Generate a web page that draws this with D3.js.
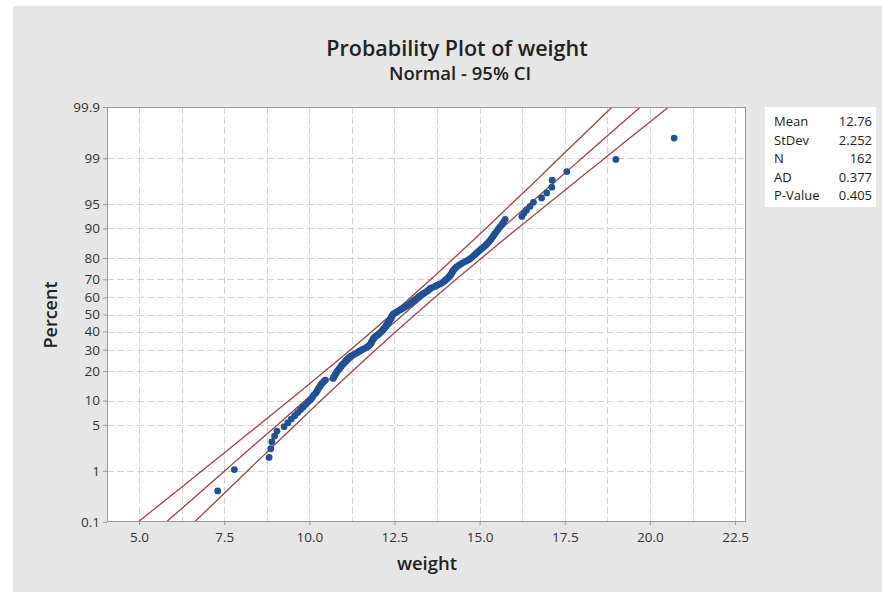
<!DOCTYPE html>
<html>
<head>
<meta charset="utf-8">
<script src="https://cdn.jsdelivr.net/npm/d3@7"></script>
<style>
  body { margin: 0; background: #fff; }
  svg text { font-family: "Open Sans", "Noto Sans", sans-serif; fill: #222; }
</style>
</head>
<body>
<script>
// sorted weights (n = 162)
var weights = [
  7.31, 7.80, 8.82, 8.87, 8.90, 8.98, 9.05, 9.26, 9.37, 9.47,
  9.57, 9.66, 9.74, 9.82, 9.90, 9.97, 10.04, 10.09, 10.13, 10.19,
  10.23, 10.26, 10.30, 10.33, 10.37, 10.42, 10.47, 10.70, 10.72, 10.75,
  10.78, 10.80, 10.83, 10.87, 10.90, 10.93, 10.96, 11.00, 11.04, 11.07,
  11.10, 11.14, 11.18, 11.23, 11.30, 11.37, 11.43, 11.48, 11.55, 11.62,
  11.68, 11.73, 11.77, 11.80, 11.82, 11.83, 11.85, 11.87, 11.89, 11.92,
  11.96, 12.00, 12.04, 12.08, 12.11, 12.14, 12.17, 12.19, 12.22, 12.24,
  12.26, 12.28, 12.30, 12.32, 12.34, 12.36, 12.38, 12.40, 12.41, 12.43,
  12.45, 12.47, 12.52, 12.57, 12.62, 12.67, 12.72, 12.77, 12.82, 12.87,
  12.92, 12.96, 13.00, 13.04, 13.08, 13.12, 13.16, 13.20, 13.24, 13.28,
  13.33, 13.38, 13.43, 13.48, 13.52, 13.55, 13.62, 13.70, 13.77, 13.84,
  13.90, 13.95, 13.99, 14.03, 14.07, 14.10, 14.13, 14.16, 14.18, 14.20,
  14.22, 14.25, 14.29, 14.33, 14.39, 14.45, 14.52, 14.60, 14.68, 14.74,
  14.79, 14.84, 14.89, 14.94, 14.99, 15.05, 15.11, 15.17, 15.22, 15.27,
  15.32, 15.36, 15.40, 15.44, 15.49, 15.54, 15.59, 15.65, 15.70, 15.75,
  16.24, 16.30, 16.38, 16.48, 16.58, 16.82, 16.97, 17.12, 17.13, 17.56,
  19.00, 20.71
];

// fitted line and 95% CI bounds (weight at each percent)
var linePct  = [0.1, 0.5, 1, 2, 5, 10, 20, 30, 50, 70, 80, 90, 95, 98, 99, 99.5, 99.9];
var ciLow    = [4.97, 6.24, 6.85, 7.52, 8.52, 9.41, 10.46, 11.21, 12.41, 13.57, 14.25, 15.18, 15.93, 16.78, 17.33, 17.84, 18.89];
var fitLine  = [5.80, 6.96, 7.52, 8.13, 9.06, 9.87, 10.87, 11.58, 12.76, 13.94, 14.66, 15.65, 16.46, 17.39, 18.00, 18.56, 19.72];
var ciHigh   = [6.63, 7.68, 8.19, 8.75, 9.59, 10.34, 11.27, 11.95, 13.11, 14.31, 15.06, 16.11, 17.00, 18.00, 18.67, 19.28, 20.55];

var yTicks = [0.1, 1, 5, 10, 20, 30, 40, 50, 60, 70, 80, 90, 95, 99, 99.9];
var xTicks = [5, 7.5, 10, 12.5, 15, 17.5, 20, 22.5];

var statLabels = ["Mean", "StDev", "N", "AD", "P-Value"];
var statValues = ["12.76", "2.252", "162", "0.377", "0.405"];

// inverse standard normal (Acklam)
function qnorm(p) {
  var a = [-39.69683028665376, 220.9460984245205, -275.9285104469687, 138.3577518672690, -30.66479806614716, 2.506628277459239];
  var b = [-54.47609879822406, 161.5858368580409, -155.6989798598866, 66.80131188771972, -13.28068155288572];
  var c = [-0.007784894002430293, -0.3223964580411365, -2.400758277161838, -2.549732539343734, 4.374664141464968, 2.938163982698783];
  var d = [0.007784695709041462, 0.3224671290700398, 2.445134137142996, 3.754408661907416];
  var q, r;
  if (p < 0.02425) {
    q = Math.sqrt(-2 * Math.log(p));
    return (((((c[0]*q+c[1])*q+c[2])*q+c[3])*q+c[4])*q+c[5]) / ((((d[0]*q+d[1])*q+d[2])*q+d[3])*q+1);
  } else if (p > 1 - 0.02425) {
    q = Math.sqrt(-2 * Math.log(1 - p));
    return -(((((c[0]*q+c[1])*q+c[2])*q+c[3])*q+c[4])*q+c[5]) / ((((d[0]*q+d[1])*q+d[2])*q+d[3])*q+1);
  }
  q = p - 0.5; r = q * q;
  return (((((a[0]*r+a[1])*r+a[2])*r+a[3])*r+a[4])*r+a[5])*q / (((((b[0]*r+b[1])*r+b[2])*r+b[3])*r+b[4])*r+1);
}

var W = 882, H = 592;
var plot = { left: 107, right: 746, top: 107, bottom: 522 };

var svg = d3.select("body").append("svg").attr("width", W).attr("height", H);

svg.append("rect").attr("x", 13).attr("y", 6).attr("width", W - 13).attr("height", H - 6).attr("fill", "#e6e6e6");

var x = d3.scaleLinear().domain([4.06, 22.82]).range([plot.left, plot.right]);
var zTop = qnorm(0.999);
var y = d3.scaleLinear().domain([-zTop, zTop]).range([plot.bottom, plot.top]);
function yp(pct) { return y(qnorm(pct / 100)); }

svg.append("rect")
  .attr("x", plot.left).attr("y", plot.top)
  .attr("width", plot.right - plot.left).attr("height", plot.bottom - plot.top)
  .attr("fill", "#fff");

// grid
var grid = svg.append("g").attr("stroke", "#d4d4d4").attr("stroke-width", 1).attr("stroke-dasharray", "7,3");
grid.selectAll("line.gx").data(d3.range(5, 22.51, 1.25)).enter().append("line")
  .attr("x1", function(d) { return Math.round(x(d)) + 0.5; })
  .attr("x2", function(d) { return Math.round(x(d)) + 0.5; })
  .attr("y1", plot.top).attr("y2", plot.bottom);
grid.selectAll("line.gy").data(yTicks.slice(1, -1)).enter().append("line")
  .attr("y1", function(d) { return Math.round(yp(d)) + 0.5; })
  .attr("y2", function(d) { return Math.round(yp(d)) + 0.5; })
  .attr("x1", plot.left).attr("x2", plot.right);

// clip for lines
svg.append("clipPath").attr("id", "clip").append("rect")
  .attr("x", plot.left).attr("y", plot.top)
  .attr("width", plot.right - plot.left).attr("height", plot.bottom - plot.top);

var lineGen = d3.line()
  .x(function(d) { return x(d[0]); })
  .y(function(d) { return yp(d[1]); })
  .curve(d3.curveCatmullRom);

var lg = svg.append("g").attr("clip-path", "url(#clip)");
[ciLow, fitLine, ciHigh].forEach(function(arr) {
  lg.append("path")
    .datum(arr.map(function(v, i) { return [v, linePct[i]]; }))
    .attr("d", lineGen)
    .attr("fill", "none")
    .attr("stroke", "#a8423a")
    .attr("stroke-width", 1.3);
});

// points with median-rank plotting positions
var n = weights.length;
svg.append("g").selectAll("circle").data(weights).enter().append("circle")
  .attr("cx", function(d) { return x(d); })
  .attr("cy", function(d, i) { return yp((i + 1 - 0.3) / (n + 0.4) * 100); })
  .attr("r", 3.4)
  .attr("fill", "#1f5199");

// frame
svg.append("rect")
  .attr("x", plot.left + 0.5).attr("y", plot.top + 0.5)
  .attr("width", plot.right - plot.left - 1).attr("height", plot.bottom - plot.top - 1)
  .attr("fill", "none").attr("stroke", "#9a9a9a");

// axes
var yAxis = d3.axisLeft(y)
  .tickValues(yTicks.map(function(p) { return qnorm(p / 100); }))
  .tickFormat(function(d, i) { return String(yTicks[i]); })
  .tickSize(4).tickPadding(3);
var gy = svg.append("g").attr("transform", "translate(" + plot.left + ",0)").call(yAxis);

var xAxis = d3.axisBottom(x).tickValues(xTicks).tickFormat(d3.format(".1f")).tickSize(3).tickPadding(7);
var gx = svg.append("g").attr("transform", "translate(0," + plot.bottom + ")").call(xAxis);

[gx, gy].forEach(function(g) {
  g.select(".domain").remove();
  g.selectAll(".tick line").attr("stroke", "#9a9a9a");
  g.selectAll(".tick text").style("font-size", "13.5px").style("fill", "#333")
    .style("font-family", "'Open Sans', 'Noto Sans', sans-serif");
});

// titles
svg.append("text").attr("x", 457).attr("y", 56).attr("text-anchor", "middle")
  .style("font-size", "21.5px").style("font-weight", "600").text("Probability Plot of weight");
svg.append("text").attr("x", 460).attr("y", 80).attr("text-anchor", "middle")
  .style("font-size", "18.5px").style("font-weight", "600").text("Normal - 95% CI");
svg.append("text").attr("x", 427).attr("y", 570).attr("text-anchor", "middle")
  .style("font-size", "18.5px").style("font-weight", "600").text("weight");
svg.append("text").attr("transform", "translate(57,315) rotate(-90)").attr("text-anchor", "middle")
  .style("font-size", "18px").style("font-weight", "600").text("Percent");

// stats box
var box = svg.append("g").attr("transform", "translate(765,107)");
box.append("rect").attr("width", 111).attr("height", 100).attr("fill", "#fff");
statLabels.forEach(function(s, i) {
  box.append("text").attr("x", 9).attr("y", 19 + i * 18.6).style("font-size", "13px").text(s);
  box.append("text").attr("x", 107).attr("y", 19 + i * 18.6).attr("text-anchor", "end")
    .style("font-size", "13px").text(statValues[i]);
});
</script>
</body>
</html>
